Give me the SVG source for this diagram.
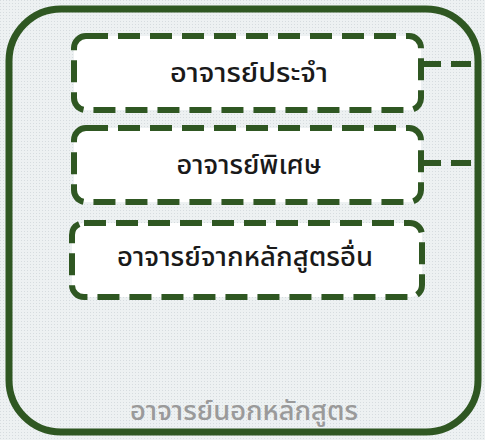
<svg xmlns="http://www.w3.org/2000/svg" width="485" height="440" viewBox="0 0 485 440">
<defs>
<pattern id="dots" width="3" height="3" patternUnits="userSpaceOnUse">
<rect width="3" height="3" fill="#edf1f2"/>
<rect width="1" height="1" fill="#d6dcdf"/>
</pattern>
<style>
.box{fill:#ffffff;stroke:#2f5722;stroke-width:6;stroke-dasharray:22 10;}
.conn{fill:none;stroke:#2f5722;stroke-width:6;stroke-dasharray:20 10;}
.lbl{font-family:"Noto Sans Thai","Noto Sans","DejaVu Sans",sans-serif;font-size:26px;font-weight:500;fill:#1a1a1a;text-anchor:middle;}
.outerlbl{font-family:"Noto Sans Thai","Noto Sans","DejaVu Sans",sans-serif;font-size:27px;font-weight:500;fill:#9a9a9a;text-anchor:middle;}
</style>
</defs>
<rect width="485" height="440" fill="url(#dots)"/>
<g id="outer">
<rect x="9" y="9" width="469" height="423" rx="52" ry="52" fill="none" stroke="#2f5722" stroke-width="7"/>
<text class="outerlbl" x="244" y="420" textLength="228" lengthAdjust="spacingAndGlyphs">อาจารย์นอกหลักสูตร</text>
</g>
<g id="connectors">
<path class="conn" d="M421 64 H478"/>
<path class="conn" d="M421 163 H478"/>
</g>
<g id="node1">
<rect class="box" x="74" y="36" width="347" height="74" rx="12"/>
<text class="lbl" x="249" y="82" textLength="158" lengthAdjust="spacingAndGlyphs">อาจารย์ประจำ</text>
</g>
<g id="node2">
<rect class="box" x="74" y="128" width="347" height="74" rx="12"/>
<text class="lbl" x="249" y="174" textLength="145" lengthAdjust="spacingAndGlyphs">อาจารย์พิเศษ</text>
</g>
<g id="node3">
<rect class="box" x="72" y="223" width="350" height="74" rx="12"/>
<text class="lbl" x="245" y="266" textLength="256" lengthAdjust="spacingAndGlyphs">อาจารย์จากหลักสูตรอื่น</text>
</g>
</svg>
